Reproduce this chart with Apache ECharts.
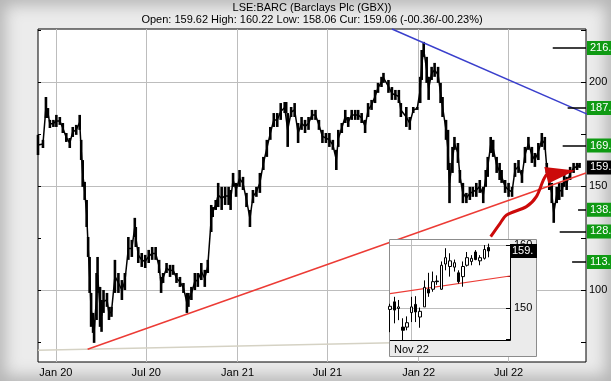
<!DOCTYPE html>
<html><head><meta charset="utf-8">
<script src="https://cdn.jsdelivr.net/npm/echarts@6/dist/echarts.min.js"></script>
<style>
html,body{margin:0;padding:0;background:#e9e9e9;}
#c{width:611px;height:381px;background:#ececec;box-shadow:inset 0 0 16px 5px #b4b4b4;}
</style></head><body><div id="c"></div>
<script>
// ---------- data ----------
const titleText = 'LSE:BARC (Barclays Plc (GBX))';
const subtitleText = 'Open: 159.62 High: 160.22 Low: 158.06 Cur: 159.06 (-00.36/-00.23%)';

const priceDates = ['2019-11-26','2019-12-06','2019-12-12','2019-12-16','2019-12-20','2019-12-27','2020-01-02','2020-01-09','2020-01-15','2020-01-22','2020-01-29','2020-02-04','2020-02-11','2020-02-18','2020-02-21','2020-02-24','2020-02-28','2020-03-03','2020-03-06','2020-03-09','2020-03-12','2020-03-16','2020-03-18','2020-03-23','2020-03-25','2020-03-30','2020-04-02','2020-04-06','2020-04-13','2020-04-17','2020-04-22','2020-04-29','2020-05-06','2020-05-13','2020-05-19','2020-05-26','2020-06-02','2020-06-08','2020-06-10','2020-06-15','2020-06-22','2020-06-29','2020-07-06','2020-07-13','2020-07-20','2020-07-27','2020-07-31','2020-08-04','2020-08-11','2020-08-18','2020-08-24','2020-08-31','2020-09-07','2020-09-14','2020-09-21','2020-09-24','2020-09-30','2020-10-07','2020-10-13','2020-10-20','2020-10-27','2020-11-02','2020-11-09','2020-11-12','2020-11-18','2020-11-23','2020-11-30','2020-12-07','2020-12-14','2020-12-18','2020-12-23','2020-12-29','2021-01-05','2021-01-12','2021-01-19','2021-01-26','2021-02-01','2021-02-08','2021-02-15','2021-02-22','2021-03-01','2021-03-08','2021-03-15','2021-03-22','2021-03-29','2021-04-06','2021-04-09','2021-04-12','2021-04-19','2021-04-26','2021-05-03','2021-05-10','2021-05-17','2021-05-24','2021-05-31','2021-06-07','2021-06-14','2021-06-21','2021-06-28','2021-07-05','2021-07-12','2021-07-19','2021-07-23','2021-07-30','2021-08-06','2021-08-12','2021-08-19','2021-08-26','2021-09-01','2021-09-08','2021-09-15','2021-09-21','2021-09-28','2021-10-05','2021-10-11','2021-10-18','2021-10-22','2021-11-01','2021-11-08','2021-11-15','2021-11-22','2021-11-26','2021-12-07','2021-12-14','2021-12-21','2021-12-29','2022-01-04','2022-01-07','2022-01-11','2022-01-17','2022-01-21','2022-01-27','2022-02-02','2022-02-09','2022-02-14','2022-02-18','2022-02-25','2022-03-01','2022-03-04','2022-03-10','2022-03-14','2022-03-21','2022-03-25','2022-03-31','2022-04-07','2022-04-14','2022-04-20','2022-04-27','2022-05-04','2022-05-11','2022-05-16','2022-05-20','2022-05-26','2022-05-31','2022-06-07','2022-06-13','2022-06-17','2022-06-24','2022-07-01','2022-07-08','2022-07-14','2022-07-21','2022-07-28','2022-08-03','2022-08-10','2022-08-17','2022-08-23','2022-08-30','2022-09-06','2022-09-12','2022-09-16','2022-09-21','2022-09-26','2022-09-30','2022-10-06','2022-10-11','2022-10-17','2022-10-21','2022-10-26','2022-11-02','2022-11-09','2022-11-16','2022-11-21'];
const priceHigh = [174.7,172.3,192.9,187.6,181.9,181.9,184.3,183.3,180.4,175.6,173.2,178.5,179.5,184.3,172.3,162.6,152.1,143.4,125.6,116.0,98.7,89.1,85.7,108.3,116.0,101.6,95.3,100.1,98.7,92.0,92.0,114.6,108.3,104.9,108.3,125.6,124.2,134.8,130.4,120.8,117.9,117.0,119.4,120.8,120.8,114.6,106.4,108.3,113.1,112.2,112.2,108.3,106.4,103.5,98.7,98.7,101.6,108.3,108.3,113.1,109.8,114.6,141.0,140.0,143.4,151.6,149.7,149.7,149.7,148.2,156.4,151.6,157.8,154.5,146.8,138.6,148.2,149.7,156.4,164.1,172.3,178.5,185.2,185.2,190.0,190.5,190.5,185.2,188.1,190.0,180.4,183.3,181.9,183.3,186.7,186.7,181.9,177.1,175.6,175.6,172.3,167.5,177.1,180.4,186.7,183.3,186.7,186.7,186.7,185.2,181.9,190.0,191.5,196.3,199.7,202.6,204.5,201.1,197.7,196.3,196.3,190.0,188.1,183.3,188.1,188.1,202.6,215.5,219.4,212.2,202.6,207.4,209.3,207.4,199.7,192.9,181.9,177.1,161.2,168.9,173.7,170.8,157.8,151.6,146.8,149.7,149.7,151.6,153.0,149.7,157.8,164.1,173.7,172.3,164.1,161.2,157.8,153.0,151.6,149.7,161.2,162.6,157.8,168.9,173.7,168.9,166.0,170.8,175.6,173.7,161.2,156.4,151.6,141.9,149.7,151.6,151.6,157.8,154.5,159.3,161.2,161.2,161.2];
const priceLow = [165.0,168.4,182.8,182.8,178.0,178.5,178.5,179.5,175.6,171.3,168.4,173.7,174.7,177.1,162.6,149.7,143.4,130.4,116.0,98.7,82.4,79.5,74.7,85.7,98.7,82.4,80.0,89.1,92.0,85.7,87.2,98.7,98.7,95.3,100.1,114.6,116.0,125.6,120.8,113.1,111.2,110.7,113.1,114.6,114.6,108.3,98.7,103.5,108.3,106.4,107.4,103.5,101.6,98.7,89.1,92.0,95.3,100.1,101.6,104.9,101.6,108.3,128.0,135.2,138.6,140.0,138.6,141.0,141.0,138.6,149.7,144.9,149.7,148.2,140.0,130.4,141.9,144.9,146.8,157.8,164.1,172.3,178.5,178.5,181.9,185.2,185.2,168.9,183.3,183.3,170.8,177.1,175.6,177.1,181.9,181.9,177.1,170.8,170.8,168.9,167.5,157.8,168.9,175.6,180.4,178.5,181.9,181.9,181.9,180.4,175.6,183.3,186.7,190.0,194.9,197.7,199.7,194.9,191.5,191.5,190.0,183.3,178.5,177.1,185.2,186.7,190.0,201.1,212.2,199.7,191.5,201.1,202.6,199.7,190.0,183.3,172.3,157.8,141.9,156.4,167.5,161.2,151.6,141.9,141.9,143.4,144.9,144.9,146.8,141.9,149.7,154.5,166.0,164.1,156.4,153.0,151.6,146.8,144.9,144.9,154.5,156.4,151.6,161.2,167.5,161.2,159.3,162.6,168.9,167.5,156.4,148.2,141.9,132.4,141.9,143.4,144.9,149.7,148.2,153.0,156.4,157.8,158.8];

const xMin = '2019-11-26', xMax = '2022-12-04';
const yMin = 65.5, yMax = 225.6;
const xTickDates = ['2020-01-01','2020-07-01','2021-01-01','2021-07-01','2022-01-01','2022-07-01'];
const xTickLabels = ['Jan 20','Jul 20','Jan 21','Jul 21','Jan 22','Jul 22'];
const yTickValues = [75,100,125,150,175,200,225];
const yLabelValues = [100,150,200];

// trend lines [date, value]
const redTrend = [['2020-03-05',71.6],['2022-12-04',156.4]];
const greyTrend = [['2019-11-26',71.1],['2022-06-14',75.8]];
const blueTrend = [['2021-11-08',225.6],['2023-01-23',179.7]];
const arrowShaft = [['2022-05-26',125.8],['2022-06-14',132.2],['2022-06-27',136.2],['2022-08-06',140.2],['2022-08-26',145.0],['2022-09-09',153.0],['2022-09-16',155.9]];
const arrowHead = [['2022-09-11',159.3],['2022-11-12',157.6],['2022-09-19',151.3]];

// target levels
const targetValues = [216.5,187.6,169.6,138.7,128.3,113.6];
const targetStarts = ['2022-09-28','2022-10-28','2022-10-18','2022-11-18','2022-10-12','2022-11-06'];
const currentValue = 159.06;

// inset (daily candles)
const insetDates = ['2022-10-25','2022-10-26','2022-10-27','2022-10-28','2022-10-31','2022-11-01','2022-11-02','2022-11-03','2022-11-04','2022-11-07','2022-11-08','2022-11-09','2022-11-10','2022-11-11','2022-11-14','2022-11-15','2022-11-16','2022-11-17','2022-11-18','2022-11-21','2022-11-22','2022-11-23','2022-11-24','2022-11-25','2022-11-28','2022-11-29','2022-11-30','2022-12-01','2022-12-02'];
const insetOpen  = [149.8,151.0,149.95,147.0,147.0,149.3,150.6,148.6,150.2,153.0,153.0,154.3,153.0,157.0,156.6,156.5,155.6,155.0,156.8,157.4,158.9,157.5,157.9,159.62];
const insetClose = [150.3,149.7,150.2,146.5,147.7,150.2,149.4,149.5,153.3,152.4,154.2,154.2,156.8,158.0,157.5,157.2,154.2,156.6,158.0,157.9,157.7,158.0,159.3,159.06];
const insetLow   = [146.2,147.6,148.1,144.9,146.5,147.8,147.8,146.9,150.2,151.8,152.6,153.7,152.9,156.0,155.0,155.8,153.9,153.4,156.6,156.8,157.6,156.8,157.7,158.06];
const insetHigh  = [150.7,151.8,151.3,148.4,148.7,151.8,151.9,150.1,154.4,155.6,155.8,155.2,157.4,159.5,158.7,157.7,156.0,157.4,158.9,158.4,159.2,158.4,160.0,160.22];
const insetRed = [['2022-10-25',152.3],['2022-12-02',155.1]];
const insetYMin = 144.8, insetYMax = 160.8;
const insetTicks = [145,150,155,160];
const insetLabels = [150,160];
const insetLabelIndex = 5, insetLabelText = 'Nov 22';

// ---------- chart ----------
const FONT = '"Liberation Sans", Arial, Helvetica, sans-serif';
const T = s => echarts.number.parseDate(s).getTime();
const xTickTimes = xTickDates.map(T);
const chart = echarts.init(document.getElementById('c'));

const priceData = priceDates.map((d, i) => [T(d), priceHigh[i], priceLow[i]]);
const midData = priceDates.map((d, i) => [T(d), (priceHigh[i] + priceLow[i]) / 2]);
const toT = arr => arr.map(p => [T(p[0]), p[1]]);

const targetLines = targetValues.map((v, i) => [
  {coord: [T(targetStarts[i]), v], label: {formatter: v.toFixed(1)}},
  {coord: [T(xMax), v]}
]);
targetLines.push([
  {coord: [T('2022-12-03'), currentValue], lineStyle: {color: 'rgba(0,0,0,0)', width: 0},
   label: {formatter: currentValue.toFixed(2), backgroundColor: '#000'}},
  {coord: [T(xMax), currentValue]}
]);

const option = {
  animation: false,
  textStyle: {fontFamily: FONT},
  title: [
    {text: titleText, left: 312, top: 2, textAlign: 'center', padding: 0,
     textStyle: {fontSize: 11, fontWeight: 'normal', color: '#000', fontFamily: FONT}},
    {text: subtitleText, left: 312, top: 14, textAlign: 'center', padding: 0,
     textStyle: {fontSize: 11, fontWeight: 'normal', color: '#000', fontFamily: FONT}}
  ],
  grid: [
    {left: 38, top: 29, width: 548, height: 333, show: true, backgroundColor: '#fff', borderColor: '#000', borderWidth: 1},
    {left: 390, top: 240, width: 120, height: 101, show: false}
  ],
  graphic: [
    {type: 'rect', z: 50, shape: {x: 389.5, y: 239.5, width: 147, height: 117},
     style: {fill: '#ebebeb', stroke: '#8c8c8c', lineWidth: 1}},
    {type: 'rect', z: 51, shape: {x: 390, y: 240, width: 120, height: 101}, style: {fill: '#fff'}},
    {type: 'polyline', z: 64, shape: {points: [[390, 340.5], [510.5, 340.5], [510.5, 244]]},
     style: {stroke: '#000', lineWidth: 1, fill: null}}
  ],
  xAxis: [
    {type: 'value', gridIndex: 0, min: T(xMin), max: T(xMax),
     axisLine: {show: false}, axisTick: {show: false, customValues: xTickTimes},
     axisLabel: {customValues: xTickTimes, color: '#000', fontSize: 11, margin: 5, fontFamily: FONT,
       showMinLabel: true, showMaxLabel: true,
       formatter: v => { const i = xTickTimes.indexOf(v); return i >= 0 ? xTickLabels[i] : ''; }},
     splitLine: {show: true, lineStyle: {color: '#bdbdbd', width: 1}}},
    {type: 'category', gridIndex: 1, data: insetDates, boundaryGap: false, z: 61,
     axisLine: {show: false}, axisTick: {show: false},
     axisLabel: {interval: i => i === insetLabelIndex, formatter: () => insetLabelText,
       color: '#000', fontSize: 11, margin: 3, fontFamily: FONT},
     splitLine: {show: true, interval: i => i === insetLabelIndex, lineStyle: {color: '#bdbdbd'}}}
  ],
  yAxis: [
    {type: 'value', gridIndex: 0, position: 'left', min: yMin, max: yMax,
     axisLine: {show: false},
     axisTick: {show: true, inside: true, length: 3, customValues: yTickValues, lineStyle: {color: '#000'}},
     axisLabel: {show: false},
     splitLine: {show: true, lineStyle: {color: ['rgba(0,0,0,0)', '#bdbdbd'], width: 1}}},
    {type: 'value', gridIndex: 0, position: 'right', min: yMin, max: yMax,
     axisLine: {show: false},
     axisTick: {show: true, inside: true, length: 5, customValues: yTickValues, lineStyle: {color: '#000'}},
     axisLabel: {customValues: yLabelValues, color: '#000', fontSize: 11, margin: 3, fontFamily: FONT},
     splitLine: {show: false}},
    {type: 'value', gridIndex: 1, position: 'right', min: insetYMin, max: insetYMax, z: 61,
     axisLine: {show: false},
     axisTick: {show: true, inside: true, length: 4, customValues: insetTicks, lineStyle: {color: '#000'}},
     axisLabel: {customValues: insetLabels, color: '#000', fontSize: 11, margin: 4, fontFamily: FONT},
     splitLine: {show: true, lineStyle: {color: ['rgba(0,0,0,0)', '#bdbdbd']}}}
  ],
  series: [
    {type: 'line', name: 'grey', xAxisIndex: 0, yAxisIndex: 0, z: 2, data: toT(greyTrend),
     symbol: 'none', lineStyle: {color: '#d5d2c4', width: 1.5}},
    {type: 'custom', name: 'price', xAxisIndex: 0, yAxisIndex: 0, z: 3, data: priceData,
     encode: {x: 0, y: [1, 2]},
     renderItem: (params, api) => {
       const t = api.value(0);
       const a = api.coord([t, api.value(1)]);
       const b = api.coord([t, api.value(2)]);
       return {type: 'rect', shape: {x: a[0] - 1.3, y: a[1], width: 2.6, height: Math.max(1, b[1] - a[1])},
               style: {fill: '#000'}};
     }},
    {type: 'line', name: 'priceMid', xAxisIndex: 0, yAxisIndex: 0, z: 3, data: midData,
     symbol: 'none', lineStyle: {color: '#000', width: 1.5}},
    {type: 'line', name: 'red', xAxisIndex: 0, yAxisIndex: 0, z: 4, data: toT(redTrend),
     symbol: 'none', lineStyle: {color: '#ec3b35', width: 1.5}},
    {type: 'line', name: 'blue', xAxisIndex: 0, yAxisIndex: 0, z: 4, data: toT(blueTrend), clip: false,
     symbol: 'none', lineStyle: {color: '#3a3fcc', width: 1.5}},
    {type: 'line', name: 'arrow', xAxisIndex: 0, yAxisIndex: 0, z: 5, data: toT(arrowShaft),
     symbol: 'none', smooth: 0.3, lineStyle: {color: '#cc0a0a', width: 3}},
    {type: 'custom', name: 'arrowHead', xAxisIndex: 0, yAxisIndex: 0, z: 5, data: toT(arrowHead),
     encode: {x: 0, y: 1},
     renderItem: (params, api) => {
       if (params.dataIndex !== 0) return null;
       const pts = arrowHead.map(p => api.coord([T(p[0]), p[1]]));
       return {type: 'polygon', shape: {points: pts}, style: {fill: '#cc0a0a'}};
     }},
    {type: 'line', name: 'targets', xAxisIndex: 0, yAxisIndex: 0, z: 6, data: [], clip: false,
     markLine: {
       silent: true, symbol: 'none', animation: false, z: 6,
       lineStyle: {color: '#000', width: 1.5, type: 'solid'},
       label: {show: true, position: 'end', distance: 1, color: '#fff', backgroundColor: '#0f9a13',
               fontSize: 11, fontFamily: FONT, padding: [1, 3, 1, 3], lineHeight: 12},
       emphasis: {disabled: true},
       data: targetLines
     }},
    {type: 'candlestick', name: 'inset', xAxisIndex: 1, yAxisIndex: 2, z: 62, barWidth: 3,
     data: insetOpen.map((o, i) => [o, insetClose[i], insetLow[i], insetHigh[i]]),
     itemStyle: {color: '#fff', color0: '#000', borderColor: '#000', borderColor0: '#000', borderWidth: 1}},
    {type: 'line', name: 'insetRed', xAxisIndex: 1, yAxisIndex: 2, z: 61, data: insetRed,
     symbol: 'none', lineStyle: {color: '#ec3b35', width: 1.2}},
    {type: 'line', name: 'insetCur', xAxisIndex: 1, yAxisIndex: 2, z: 63, data: [], clip: false,
     markLine: {
       silent: true, symbol: 'none', animation: false, z: 65,
       lineStyle: {color: 'rgba(0,0,0,0)', width: 0},
       label: {show: true, position: 'end', distance: 1, color: '#fff', backgroundColor: '#000',
               fontSize: 11, fontFamily: FONT, padding: [1, 0, 1, 1], lineHeight: 12,
               width: 25, overflow: 'truncate', ellipsis: '', formatter: currentValue.toFixed(2)},
       emphasis: {disabled: true},
       data: [[{coord: ['2022-12-01', currentValue]}, {coord: ['2022-12-02', currentValue]}]]
     }}
  ]
};
chart.setOption(option);
</script>
</body></html>
